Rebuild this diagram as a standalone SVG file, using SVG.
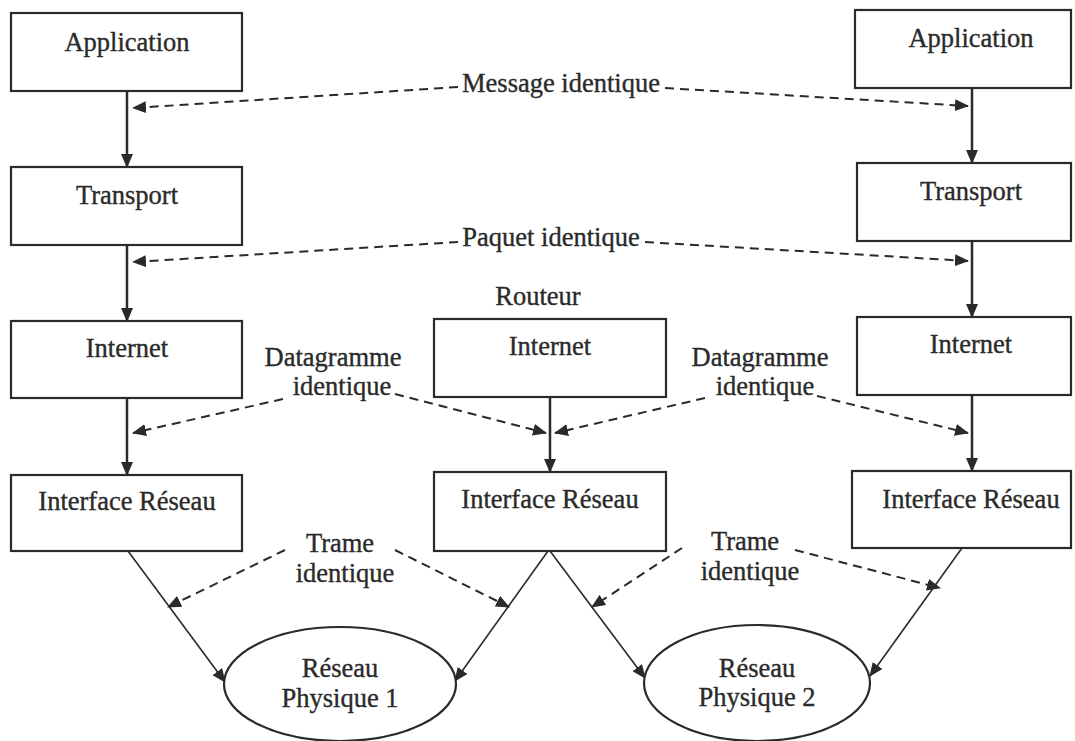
<svg xmlns="http://www.w3.org/2000/svg" width="1075" height="741" viewBox="0 0 1075 741">
<defs>
<style>
.box{fill:#fff;stroke:#2a2a2a;stroke-width:2.2}
.t{font-family:"Liberation Serif","Times New Roman",serif;font-size:26.5px;fill:#2a2a2a;stroke:#2a2a2a;stroke-width:0.35;text-anchor:middle}
.solid{stroke:#2a2a2a;stroke-width:2.5;fill:none}
.thin{stroke:#2a2a2a;stroke-width:1.6;fill:none}
.dash{stroke:#2a2a2a;stroke-width:2;fill:none;stroke-dasharray:9 6}
</style>
<marker id="ah" markerUnits="userSpaceOnUse" markerWidth="14" markerHeight="12" refX="13" refY="6" orient="auto">
<path d="M0,0 L14,6 L0,12 z" fill="#2a2a2a"/>
</marker>
</defs>
<rect width="1075" height="741" fill="#fff"/>

<g id="connectors">
<line class="solid" x1="127" y1="91" x2="127" y2="167" marker-end="url(#ah)"/>
<line class="solid" x1="127" y1="245" x2="127" y2="321" marker-end="url(#ah)"/>
<line class="solid" x1="127" y1="398" x2="127" y2="475" marker-end="url(#ah)"/>
<line class="solid" x1="972" y1="88" x2="972" y2="163" marker-end="url(#ah)"/>
<line class="solid" x1="972" y1="241" x2="972" y2="317" marker-end="url(#ah)"/>
<line class="solid" x1="972" y1="395" x2="972" y2="471" marker-end="url(#ah)"/>
<line class="solid" x1="550" y1="397" x2="550" y2="472" marker-end="url(#ah)"/>
<line class="thin" x1="128" y1="551" x2="225" y2="682" marker-end="url(#ah)"/>
<line class="thin" x1="548" y1="551" x2="455" y2="681" marker-end="url(#ah)"/>
<line class="thin" x1="550" y1="551" x2="645" y2="678" marker-end="url(#ah)"/>
<line class="thin" x1="962" y1="548" x2="870" y2="676" marker-end="url(#ah)"/>
<line class="dash" x1="458" y1="87" x2="133" y2="108" marker-end="url(#ah)"/>
<line class="dash" x1="665" y1="88" x2="968" y2="106" marker-end="url(#ah)"/>
<line class="dash" x1="458" y1="242" x2="133" y2="262" marker-end="url(#ah)"/>
<line class="dash" x1="645" y1="242" x2="968" y2="261" marker-end="url(#ah)"/>
<line class="dash" x1="283" y1="399" x2="133" y2="433" marker-end="url(#ah)"/>
<line class="dash" x1="395" y1="394" x2="546" y2="433" marker-end="url(#ah)"/>
<line class="dash" x1="705" y1="398" x2="555" y2="433" marker-end="url(#ah)"/>
<line class="dash" x1="817" y1="396" x2="968" y2="433" marker-end="url(#ah)"/>
<line class="dash" x1="285" y1="550" x2="168" y2="607" marker-end="url(#ah)"/>
<line class="dash" x1="395" y1="550" x2="509" y2="607" marker-end="url(#ah)"/>
<line class="dash" x1="682" y1="548" x2="592" y2="607" marker-end="url(#ah)"/>
<line class="dash" x1="795" y1="550" x2="940" y2="588" marker-end="url(#ah)"/>
</g>

<g id="app-left"><rect class="box" x="11" y="13" width="231" height="78"/><text class="t" x="127" y="51">Application</text></g>
<g id="transport-left"><rect class="box" x="11" y="167" width="231" height="78"/><text class="t" x="127" y="204">Transport</text></g>
<g id="internet-left"><rect class="box" x="11" y="321" width="231" height="77"/><text class="t" x="127" y="357">Internet</text></g>
<g id="iface-left"><rect class="box" x="11" y="475" width="231" height="76"/><text class="t" x="127" y="510">Interface Réseau</text></g>

<g id="app-right"><rect class="box" x="855" y="10" width="216" height="78"/><text class="t" x="971" y="47">Application</text></g>
<g id="transport-right"><rect class="box" x="857" y="163" width="214" height="78"/><text class="t" x="971" y="200">Transport</text></g>
<g id="internet-right"><rect class="box" x="857" y="317" width="214" height="78"/><text class="t" x="971" y="353">Internet</text></g>
<g id="iface-right"><rect class="box" x="852" y="471" width="219" height="77"/><text class="t" x="971" y="508">Interface Réseau</text></g>

<g id="routeur-label"><text class="t" x="538" y="305">Routeur</text></g>
<g id="internet-mid"><rect class="box" x="434" y="319" width="232" height="78"/><text class="t" x="550" y="355">Internet</text></g>
<g id="iface-mid"><rect class="box" x="434" y="472" width="232" height="79"/><text class="t" x="550" y="508">Interface Réseau</text></g>

<g id="net1"><ellipse class="box" cx="340" cy="684" rx="116" ry="57"/><text class="t" x="340" y="677">Réseau</text><text class="t" x="340" y="707">Physique 1</text></g>
<g id="net2"><ellipse class="box" cx="757" cy="683" rx="113" ry="58"/><text class="t" x="757" y="677">Réseau</text><text class="t" x="757" y="706">Physique 2</text></g>

<g id="labels">
<text class="t" x="561" y="92">Message identique</text>
<text class="t" x="551" y="246">Paquet identique</text>
<text class="t" x="333" y="366">Datagramme</text>
<text class="t" x="342" y="395">identique</text>
<text class="t" x="760" y="366">Datagramme</text>
<text class="t" x="765" y="395">identique</text>
<text class="t" x="340" y="552">Trame</text>
<text class="t" x="345" y="582">identique</text>
<text class="t" x="745" y="550">Trame</text>
<text class="t" x="750" y="580">identique</text>
</g>
</svg>
